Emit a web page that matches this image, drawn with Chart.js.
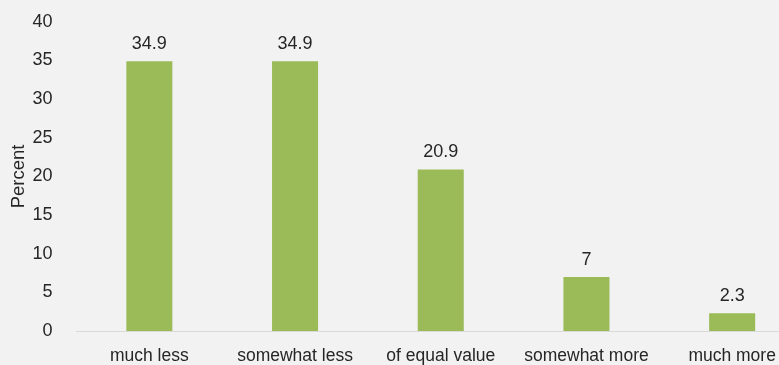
<!DOCTYPE html>
<html>
<head>
<meta charset="utf-8">
<script src="https://cdn.jsdelivr.net/npm/chart.js@4/dist/chart.umd.min.js"></script>
<style>
  html, body { margin: 0; padding: 0; background: #f2f2f2; overflow: hidden; }
  #wrap { width: 805px; height: 370px; margin-top: -5px; position: relative; }
</style>
</head>
<body>
<div id="wrap"><canvas id="c"></canvas></div>
<script>
const categories = ["much less", "somewhat less", "of equal value", "somewhat more", "much more"];
const percentValues = [34.9, 34.9, 20.9, 7, 2.3];
const valueLabels = ["34.9", "34.9", "20.9", "7", "2.3"];
const yTicks = [0, 5, 10, 15, 20, 25, 30, 35, 40];

const FONT = "'Liberation Sans', Arial, sans-serif";
const TEXT = "#262626";

// Writes each bar's value just above its top
const valueLabelPlugin = {
  id: "valueLabels",
  afterDatasetsDraw(chart) {
    const ctx = chart.ctx;
    const meta = chart.getDatasetMeta(0);
    ctx.save();
    ctx.font = "18px " + FONT;
    ctx.fillStyle = TEXT;
    ctx.textAlign = "center";
    ctx.textBaseline = "bottom";
    meta.data.forEach((bar, i) => {
      ctx.fillText(valueLabels[i], bar.x, bar.y - 8);
    });
    ctx.restore();
  }
};

new Chart(document.getElementById("c"), {
  type: "bar",
  data: {
    labels: categories,
    datasets: [{
      data: percentValues,
      backgroundColor: "#9bbb59",
      borderWidth: 0,
      barPercentage: 0.316,
      categoryPercentage: 1.0
    }]
  },
  options: {
    responsive: true,
    maintainAspectRatio: false,
    animation: false,
    layout: { padding: { top: 0, left: 8, right: 0, bottom: 0 } },
    plugins: { legend: { display: false }, tooltip: { enabled: false } },
    scales: {
      x: {
        afterFit(axis) { axis.height = 34; },
        grid: { display: false },
        border: { display: true, color: "#d9d9d9", width: 1 },
        ticks: { color: TEXT, font: { family: FONT, size: 17.5 }, maxRotation: 0, padding: 7 }
      },
      y: {
        min: 0,
        max: 40,
        afterBuildTicks(axis) { axis.ticks = yTicks.map(v => ({ value: v })); },
        afterFit(axis) { axis.width = 68.5; },
        grid: { display: false },
        border: { display: false },
        ticks: { color: TEXT, font: { family: FONT, size: 18 }, padding: 16 },
        title: { display: true, text: "Percent", color: TEXT, font: { family: FONT, size: 18.5 }, padding: 0 }
      }
    }
  },
  plugins: [valueLabelPlugin]
});
</script>
</body>
</html>
